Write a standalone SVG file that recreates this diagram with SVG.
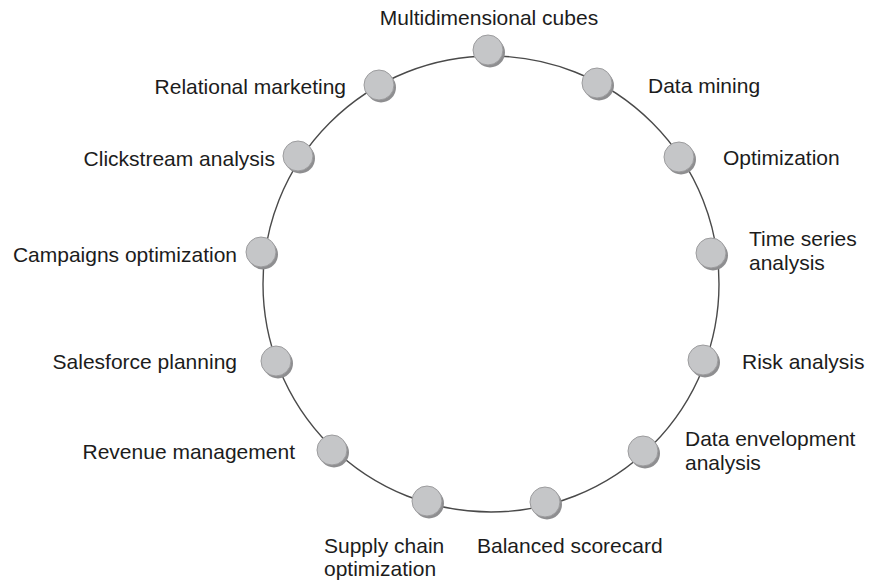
<svg xmlns="http://www.w3.org/2000/svg" width="874" height="582" viewBox="0 0 874 582">
<defs>
<style>
.ring{fill:none;stroke:#4a4a4a;stroke-width:1.4}
.sh{fill:#8e8e90}
.bd{fill:#c5c6c8;stroke:#9c9c9e;stroke-width:1}
text{font-family:"Liberation Sans",Arial,sans-serif;font-size:21px;fill:#1c1c1c}
.e{text-anchor:end}
.m{text-anchor:middle}
</style>
<g id="node-shape">
<circle class="sh" cx="2" cy="2.5" r="15"/>
<circle class="bd" cx="0" cy="0" r="15"/>
</g>
</defs>
<rect width="874" height="582" fill="#ffffff"/>
<g id="connectors">
<circle class="ring" cx="491" cy="284" r="228"/>
</g>
<g id="n-multidimensional"><use href="#node-shape" x="488" y="50"/><text class="m" x="489" y="25">Multidimensional cubes</text></g>
<g id="n-datamining"><use href="#node-shape" x="597" y="83"/><text x="648" y="93">Data mining</text></g>
<g id="n-optimization"><use href="#node-shape" x="679" y="157"/><text x="723" y="165">Optimization</text></g>
<g id="n-timeseries"><use href="#node-shape" x="711" y="253"/><text x="749" y="246">Time series</text><text x="749" y="270">analysis</text></g>
<g id="n-risk"><use href="#node-shape" x="703" y="360"/><text x="742" y="369">Risk analysis</text></g>
<g id="n-dea"><use href="#node-shape" x="643" y="451"/><text x="685" y="446">Data envelopment</text><text x="685" y="470">analysis</text></g>
<g id="n-balanced"><use href="#node-shape" x="545" y="502"/><text x="477" y="553">Balanced scorecard</text></g>
<g id="n-supply"><use href="#node-shape" x="427" y="501"/><text x="324" y="553">Supply chain</text><text x="324" y="576">optimization</text></g>
<g id="n-revenue"><use href="#node-shape" x="332" y="450"/><text class="e" x="295" y="459">Revenue management</text></g>
<g id="n-salesforce"><use href="#node-shape" x="276" y="361"/><text class="e" x="237" y="369">Salesforce planning</text></g>
<g id="n-campaigns"><use href="#node-shape" x="261" y="252"/><text class="e" x="237" y="262">Campaigns optimization</text></g>
<g id="n-clickstream"><use href="#node-shape" x="298" y="156"/><text class="e" x="275" y="166">Clickstream analysis</text></g>
<g id="n-relational"><use href="#node-shape" x="379" y="85"/><text class="e" x="346" y="94">Relational marketing</text></g>
</svg>
